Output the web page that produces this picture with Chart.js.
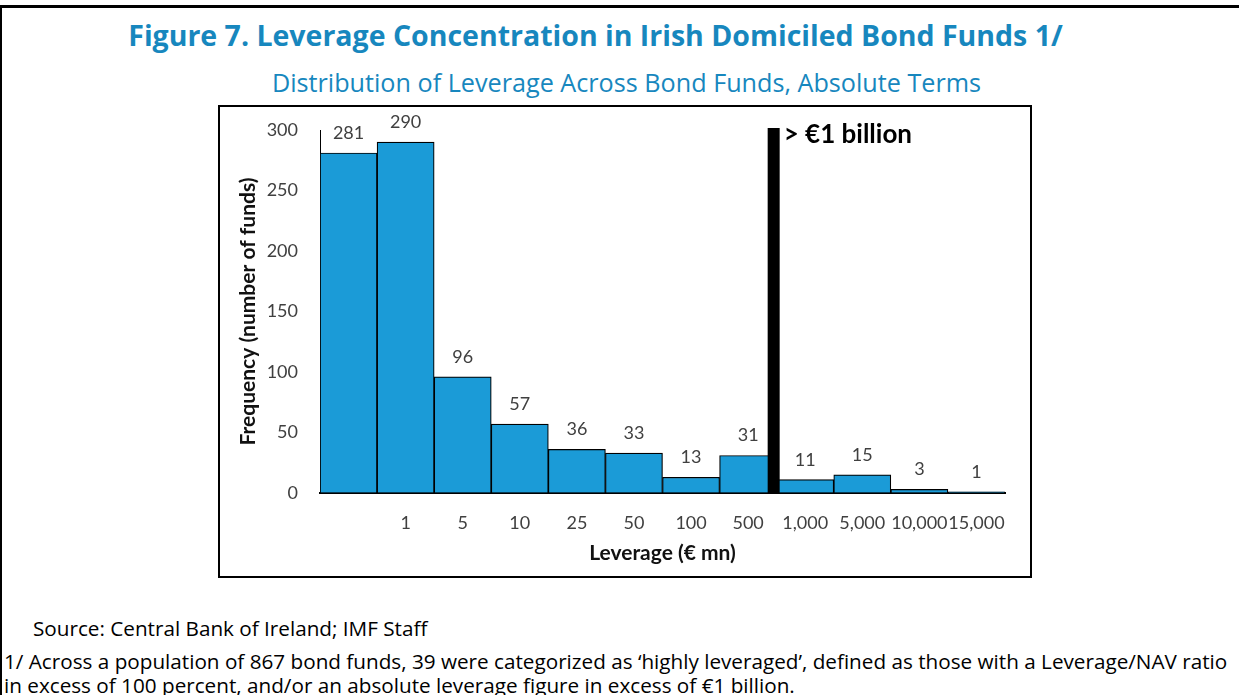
<!DOCTYPE html>
<html>
<head>
<meta charset="utf-8">
<script src="https://cdn.jsdelivr.net/npm/chart.js@4.4.1/dist/chart.umd.min.js"></script>
<style>
  body { margin: 0; background: #fff; width: 1239px; height: 695px; overflow: hidden; position: relative; }
  .frame { position: absolute; left: 0; top: 5px; width: 1245px; height: 700px; border-top: 3px solid #000; border-left: 2px solid #000; }
  .title { position: absolute; left: 0; width: 1239px; text-align: center; color: #1787be; font-family: "Open Sans", sans-serif; }
  #t1 { top: 15px; left: -24px; line-height: 40px; font-size: 28.5px; font-weight: bold; }
  #t2 { top: 66px; left: 7px; line-height: 32px; font-size: 25.2px; }
  .box { position: absolute; left: 218px; top: 105px; width: 810px; height: 469px; border: 2px solid #000; }
  .note { position: absolute; font-family: "Open Sans", sans-serif; font-size: 20.7px; color: #000; line-height: 24px; white-space: nowrap; }
</style>
</head>
<body>
<div class="frame"></div>
<div class="title" id="t1">Figure 7. Leverage Concentration in Irish Domiciled Bond Funds 1/</div>
<div class="title" id="t2">Distribution of Leverage Across Bond Funds, Absolute Terms</div>
<div class="box"><canvas id="levChart" width="810" height="469"></canvas></div>
<div class="note" style="left:33px; top:616px;">Source: Central Bank of Ireland; IMF Staff</div>
<div class="note" style="left:4px; top:649px;">1/ Across a population of 867 bond funds, 39 were categorized as ‘highly leveraged’, defined as those with a Leverage/NAV ratio</div>
<div class="note" style="left:4px; top:673px;">in excess of 100 percent, and/or an absolute leverage figure in excess of €1 billion.</div>
<script>
// leverage buckets (€ mn) and number of funds in each
const buckets = ['', '1', '5', '10', '25', '50', '100', '500', '1,000', '5,000', '10,000', '15,000'];
const funds = [281, 290, 96, 57, 36, 33, 13, 31, 11, 15, 3, 1];
const yMax = 300;
const yStep = 50;
// the "> €1 billion" divider sits between '500' and '1,000'
const billionSplit = 7.5;
const billionText = '> €1 billion';

const chartFont = 'Lato, "Open Sans", sans-serif';

const valueLabels = {
    id: 'valueLabels',
    afterDatasetsDraw(chart) {
        const ctx = chart.ctx;
        const meta = chart.getDatasetMeta(0);
        ctx.save();
        ctx.font = '18px ' + chartFont;
        ctx.fillStyle = '#404040';
        ctx.textAlign = 'center';
        ctx.textBaseline = 'middle';
        meta.data.forEach((bar, i) => {
            ctx.fillText(String(funds[i]), bar.x, bar.y - 20);
        });
        ctx.restore();
    }
};

const billionLine = {
    id: 'billionLine',
    afterDatasetsDraw(chart) {
        const ctx = chart.ctx;
        const x = chart.scales.x.getPixelForValue(billionSplit) - 3;
        const top = chart.scales.y.getPixelForValue(yMax) - 2;
        const bottom = chart.scales.y.getPixelForValue(0) + 1;
        ctx.save();
        ctx.fillStyle = '#000';
        ctx.fillRect(x - 6, top, 12, bottom - top);
        ctx.font = 'bold 26px ' + chartFont;
        ctx.textAlign = 'left';
        ctx.textBaseline = 'middle';
        ctx.fillText(billionText, x + 10, top + 7);
        ctx.restore();
    }
};

new Chart(document.getElementById('levChart'), {
    type: 'bar',
    data: {
        labels: buckets,
        datasets: [{
            label: 'Frequency',
            data: funds,
            backgroundColor: '#1b9bd7',
            borderColor: '#000',
            borderWidth: 1.2,
            barPercentage: 1,
            categoryPercentage: 1
        }]
    },
    options: {
        responsive: false,
        animation: false,
        layout: { padding: { top: 23, right: 25, left: 0, bottom: 0 } },
        plugins: {
            legend: { display: false },
            tooltip: { enabled: false }
        },
        scales: {
            x: {
                grid: { display: false, drawTicks: false },
                border: { color: '#000', width: 2 },
                ticks: { color: '#404040', font: { family: chartFont, size: 18 }, padding: 19, maxRotation: 0, autoSkip: false },
                title: { display: true, text: 'Leverage (€ mn)', color: '#111', font: { family: chartFont, size: 21, weight: 'bold' }, padding: { top: 0, bottom: 10 } },
                afterFit(scale) { scale.height = 83; }
            },
            y: {
                min: 0,
                max: yMax,
                // invisible tick marks give the label gap without padding the top
                grid: { display: true, drawOnChartArea: false, drawTicks: true, tickLength: 20, tickColor: 'rgba(0,0,0,0)' },
                border: { color: '#000', width: 1 },
                ticks: { stepSize: yStep, color: '#404040', font: { family: chartFont, size: 18 }, padding: 2 },
                title: { display: true, text: 'Frequency (number of funds)', color: '#111', font: { family: chartFont, size: 21, weight: 'bold' }, padding: { top: 16, bottom: 0 } },
                afterFit(scale) { scale.width = 100; }
            }
        }
    },
    plugins: [valueLabels, billionLine]
});
</script>
</body>
</html>
